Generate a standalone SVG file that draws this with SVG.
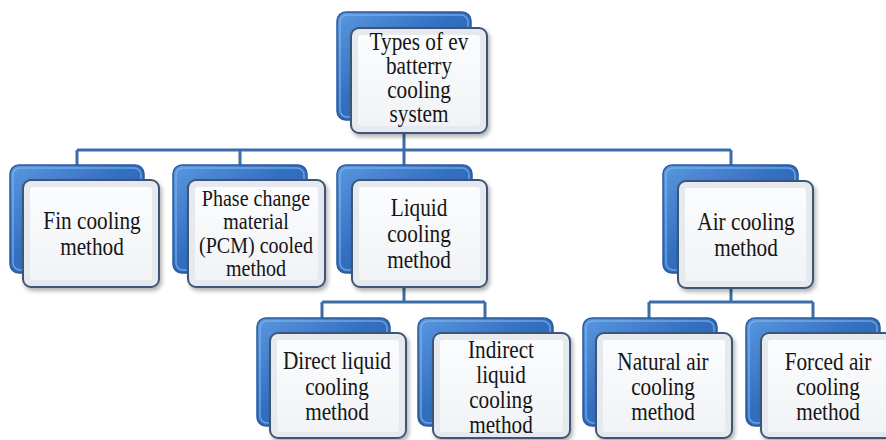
<svg xmlns="http://www.w3.org/2000/svg" width="886" height="440" viewBox="0 0 886 440">
<style>
.back{fill:url(#gBlue);stroke:#2A5B9C;stroke-width:1.5}
.backhi{fill:none;stroke:#86B8EE;stroke-width:1.5;opacity:.7}
.front{fill:#E6E9EE;stroke:#3D5677;stroke-width:2;filter:url(#sh)}
.inner{fill:url(#gWhite)}
.t{font-family:"Liberation Serif","Times New Roman",serif;font-size:25px;fill:#151515;text-anchor:middle}
.s{font-size:23px}
.c{fill:none;stroke:#3C6DA6;stroke-width:3}
</style>
<defs>
<linearGradient id="gBlue" x1="0" y1="0" x2="1" y2="1">
<stop offset="0" stop-color="#5A97E0"/>
<stop offset="0.45" stop-color="#336FC0"/>
<stop offset="1" stop-color="#2A5EA6"/>
</linearGradient>
<linearGradient id="gWhite" x1="0" y1="0" x2="0" y2="1">
<stop offset="0" stop-color="#FBFCFD"/>
<stop offset="1" stop-color="#F1F3F6"/>
</linearGradient>
<filter id="sh" x="-10%" y="-10%" width="125%" height="125%">
<feDropShadow dx="2" dy="3" stdDeviation="2" flood-color="#000" flood-opacity="0.3"/>
</filter>
</defs>
<rect width="886" height="440" fill="#fff"/>
<g id="connectors">
<path class="c" d="M404 133V150M77 150H731M77 150V166M240 150V166M404 150V166M731 150V166"/>
<path class="c" d="M404 287V302M322 302H485M322 302V319M485 302V319"/>
<path class="c" d="M731 288V302M649 302H813M649 302V319M813 302V319"/>
</g>
<g id="n-root">
<rect class="back" x="337" y="12" width="134" height="108" rx="9"/>
<rect class="backhi" x="340" y="15" width="128" height="102" rx="7"/>
<rect class="front" x="351" y="28" width="136" height="105" rx="8"/>
<rect class="inner" x="358" y="35" width="122" height="91" rx="3"/>
<text class="t" transform="matrix(0.85 0 0 1 419 0)"><tspan x="0" y="50">Types of ev</tspan><tspan x="0" y="74">batterry</tspan><tspan x="0" y="98">cooling</tspan><tspan x="0" y="122">system</tspan></text>
</g>
<g id="n-fin">
<rect class="back" x="10" y="165" width="134" height="108" rx="9"/>
<rect class="backhi" x="13" y="168" width="128" height="102" rx="7"/>
<rect class="front" x="23" y="180" width="136" height="107" rx="8"/>
<rect class="inner" x="30" y="187" width="122" height="93" rx="3"/>
<text class="t" transform="matrix(0.85 0 0 1 92 0)"><tspan x="0" y="229">Fin cooling</tspan><tspan x="0" y="255">method</tspan></text>
</g>
<g id="n-pcm">
<rect class="back" x="173" y="165" width="134" height="108" rx="9"/>
<rect class="backhi" x="176" y="168" width="128" height="102" rx="7"/>
<rect class="front" x="188" y="180" width="137" height="107" rx="8"/>
<rect class="inner" x="195" y="187" width="123" height="93" rx="3"/>
<text class="t s" transform="matrix(0.87 0 0 1 256 0)"><tspan x="0" y="206">Phase change</tspan><tspan x="0" y="229">material</tspan><tspan x="0" y="253">(PCM) cooled</tspan><tspan x="0" y="276">method</tspan></text>
</g>
<g id="n-liquid">
<rect class="back" x="337" y="165" width="135" height="108" rx="9"/>
<rect class="backhi" x="340" y="168" width="129" height="102" rx="7"/>
<rect class="front" x="352" y="180" width="135" height="107" rx="8"/>
<rect class="inner" x="359" y="187" width="121" height="93" rx="3"/>
<text class="t" transform="matrix(0.85 0 0 1 419 0)"><tspan x="0" y="216">Liquid</tspan><tspan x="0" y="242">cooling</tspan><tspan x="0" y="268">method</tspan></text>
</g>
<g id="n-air">
<rect class="back" x="663" y="165" width="135" height="108" rx="9"/>
<rect class="backhi" x="666" y="168" width="129" height="102" rx="7"/>
<rect class="front" x="678" y="181" width="135" height="107" rx="8"/>
<rect class="inner" x="685" y="188" width="121" height="93" rx="3"/>
<text class="t" transform="matrix(0.85 0 0 1 746 0)"><tspan x="0" y="230">Air cooling</tspan><tspan x="0" y="256">method</tspan></text>
</g>
<g id="n-direct">
<rect class="back" x="257" y="318" width="133" height="108" rx="9"/>
<rect class="backhi" x="260" y="321" width="127" height="102" rx="7"/>
<rect class="front" x="270" y="333" width="136" height="105" rx="8"/>
<rect class="inner" x="277" y="340" width="122" height="92" rx="3"/>
<text class="t" transform="matrix(0.85 0 0 1 337 0)"><tspan x="0" y="369">Direct liquid</tspan><tspan x="0" y="395">cooling</tspan><tspan x="0" y="420">method</tspan></text>
</g>
<g id="n-indirect">
<rect class="back" x="418" y="318" width="135" height="108" rx="9"/>
<rect class="backhi" x="421" y="321" width="129" height="102" rx="7"/>
<rect class="front" x="433" y="333" width="137" height="105" rx="8"/>
<rect class="inner" x="440" y="340" width="123" height="92" rx="3"/>
<text class="t" transform="matrix(0.85 0 0 1 501 0)"><tspan x="0" y="358">Indirect</tspan><tspan x="0" y="383">liquid</tspan><tspan x="0" y="408">cooling</tspan><tspan x="0" y="433">method</tspan></text>
</g>
<g id="n-natural">
<rect class="back" x="583" y="318" width="134" height="108" rx="9"/>
<rect class="backhi" x="586" y="321" width="128" height="102" rx="7"/>
<rect class="front" x="596" y="333" width="136" height="105" rx="8"/>
<rect class="inner" x="603" y="340" width="122" height="92" rx="3"/>
<text class="t" transform="matrix(0.85 0 0 1 663 0)"><tspan x="0" y="370">Natural air</tspan><tspan x="0" y="395">cooling</tspan><tspan x="0" y="420">method</tspan></text>
</g>
<g id="n-forced">
<rect class="back" x="746" y="318" width="134" height="108" rx="9"/>
<rect class="backhi" x="749" y="321" width="128" height="102" rx="7"/>
<rect class="front" x="761" y="333" width="136" height="105" rx="8"/>
<rect class="inner" x="768" y="340" width="122" height="92" rx="3"/>
<text class="t" transform="matrix(0.85 0 0 1 828 0)"><tspan x="0" y="370">Forced air</tspan><tspan x="0" y="395">cooling</tspan><tspan x="0" y="420">method</tspan></text>
</g>
</svg>
